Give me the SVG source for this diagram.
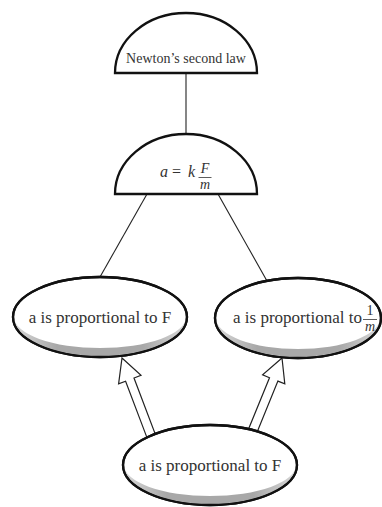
<svg xmlns="http://www.w3.org/2000/svg" width="382" height="507" viewBox="0 0 382 507">
<defs>
<style>
.node{fill:#fff;stroke:#111;stroke-width:2.3}
.line{stroke:#222;stroke-width:1.1;fill:none}
.arrow{fill:#fff;stroke:#222;stroke-width:1.2;stroke-linejoin:miter}
.shade{fill:url(#g)}
.t{font-family:"Liberation Serif","Times New Roman",serif;fill:#333}
.i{font-style:italic}
</style>
<linearGradient id="g" x1="0" y1="0" x2="1" y2="0">
<stop offset="0" stop-color="#d8d8d8"/>
<stop offset="0.25" stop-color="#a8a8a8"/>
<stop offset="0.75" stop-color="#a8a8a8"/>
<stop offset="1" stop-color="#d8d8d8"/>
</linearGradient>
</defs>
<rect width="382" height="507" fill="#fff"/>
<g id="connectors">
<line class="line" x1="186" y1="73" x2="186" y2="134"/>
<line class="line" x1="147" y1="194" x2="100" y2="277"/>
<line class="line" x1="218" y1="194" x2="267" y2="281"/>
<polygon class="arrow" points="122,358 141.0,375.3 134.0,378.0 156.3,436.9 147.9,440.1 125.6,381.2 118.6,383.8"/>
<polygon class="arrow" points="282,358 284.8,383.9 277.9,381.1 254.1,439.4 245.7,436.0 269.5,377.7 262.6,374.8"/>
</g>
<g id="newton">
<path class="node" d="M115,73 A71,60 0 0 1 257,73 Z"/>
<text class="t" x="186" y="63" font-size="14" text-anchor="middle">Newton’s second law</text>
</g>
<g id="formula">
<path class="node" d="M115,194 A71,60 0 0 1 257,194 Z"/>
<text class="t i" x="160" y="177" font-size="16">a</text>
<text class="t" x="172" y="177" font-size="16">=</text>
<text class="t i" x="188" y="177" font-size="16">k</text>
<text class="t i" x="205" y="173" font-size="14" text-anchor="middle">F</text>
<line x1="198.5" y1="177.5" x2="211.5" y2="177.5" stroke="#333" stroke-width="0.8"/>
<text class="t i" x="205" y="189" font-size="14" text-anchor="middle">m</text>
</g>
<g id="propF">
<ellipse class="node" cx="100" cy="317" rx="87" ry="40"/>
<path class="shade" d="M14,317 A86,39 0 0 0 186,317 A86,31 0 0 1 14,317 Z"/>
<ellipse cx="100" cy="317" rx="87" ry="40" fill="none" stroke="#111" stroke-width="2.3"/>
<text class="t" x="100" y="323" font-size="17" text-anchor="middle">a is proportional to F</text>
</g>
<g id="propInvM">
<ellipse class="node" cx="298" cy="318" rx="83" ry="40"/>
<path class="shade" d="M216,318 A82,39 0 0 0 380,318 A82,31 0 0 1 216,318 Z"/>
<ellipse cx="298" cy="318" rx="83" ry="40" fill="none" stroke="#111" stroke-width="2.3"/>
<text class="t" x="233" y="323" font-size="17">a is proportional to</text>
<text class="t" x="370" y="315" font-size="14" text-anchor="middle">1</text>
<line x1="363" y1="319.5" x2="377" y2="319.5" stroke="#333" stroke-width="0.8"/>
<text class="t i" x="370" y="331" font-size="14" text-anchor="middle">m</text>
</g>
<g id="bottom">
<ellipse class="node" cx="210" cy="465" rx="87" ry="40"/>
<path class="shade" d="M124,465 A86,39 0 0 0 296,465 A86,31 0 0 1 124,465 Z"/>
<ellipse cx="210" cy="465" rx="87" ry="40" fill="none" stroke="#111" stroke-width="2.3"/>
<text class="t" x="210" y="471" font-size="17" text-anchor="middle">a is proportional to F</text>
</g>
</svg>
